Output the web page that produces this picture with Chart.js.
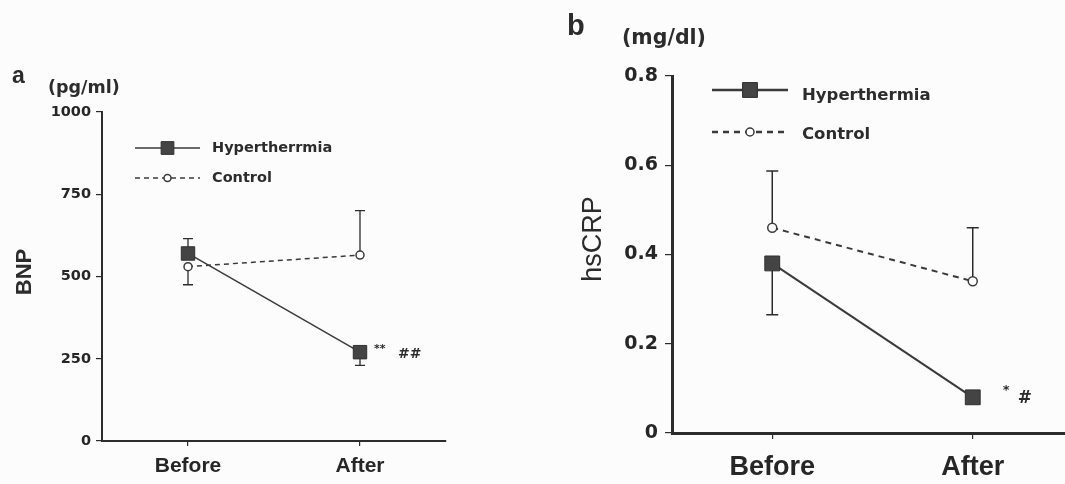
<!DOCTYPE html>
<html>
<head>
<meta charset="utf-8">
<script src="https://cdn.jsdelivr.net/npm/chart.js@4.4.1/dist/chart.umd.min.js"></script>
<style>
  html, body { margin: 0; padding: 0; background: #fcfcfc; overflow: hidden; }
  #wrap { position: relative; width: 1065px; height: 484px; overflow: hidden; }
  #bnp { position: absolute; left: 0; top: 0; }
  #crp { position: absolute; left: 540px; top: 0; }
</style>
</head>
<body>
<div id="wrap">
  <canvas id="bnp" width="540" height="484"></canvas>
  <canvas id="crp" width="560" height="484"></canvas>
</div>
<script>
const phases = ['Before', 'After'];

// BNP, pg/ml
const bnpHyper = [570, 270];
const bnpControl = [530, 565];
const bnpHyperErr = [45, -40];      // sign gives the side the bar is drawn on
const bnpControlErr = [-55, 135];
const bnpTicks = [0, 250, 500, 750, 1000];
const bnpSig = ['', '**'];
const bnpSigVsControl = ['', '##'];

// hsCRP, mg/dl
const crpHyper = [0.38, 0.08];
const crpControl = [0.46, 0.34];
const crpHyperErr = [-0.115, 0];
const crpControlErr = [0.127, 0.12];
const crpTicks = [0, 0.2, 0.4, 0.6, 0.8];
const crpSig = ['', '*'];
const crpSigVsControl = ['', '#'];

const ink = '#2c2c2c';
const dark = '#3a3a3a';

// one-sided SEM bars, drawn under the markers
const errorBars = {
  id: 'errorBars',
  beforeDatasetsDraw(chart, args, opts) {
    const ctx = chart.ctx;
    const y = chart.scales.y;
    chart.data.datasets.forEach((ds, i) => {
      const meta = chart.getDatasetMeta(i);
      ds.errors.forEach((e, j) => {
        if (!e) return;
        const pt = meta.data[j];
        const yEnd = y.getPixelForValue(ds.data[j] + e);
        ctx.save();
        ctx.strokeStyle = ink;
        ctx.lineWidth = opts.width;
        ctx.beginPath();
        ctx.moveTo(pt.x, pt.y);
        ctx.lineTo(pt.x, yEnd);
        ctx.moveTo(pt.x - opts.cap, yEnd);
        ctx.lineTo(pt.x + opts.cap, yEnd);
        ctx.stroke();
        ctx.restore();
      });
    });
  }
};

// significance marks next to the hyperthermia points
const sigMarks = {
  id: 'sigMarks',
  afterDatasetsDraw(chart, args, opts) {
    const ctx = chart.ctx;
    const meta = chart.getDatasetMeta(0);
    ctx.save();
    ctx.fillStyle = ink;
    ctx.textAlign = 'left';
    ctx.textBaseline = 'middle';
    meta.data.forEach((pt, j) => {
      if (opts.star[j]) {
        ctx.font = opts.starFont;
        ctx.fillText(opts.star[j], pt.x + opts.starDx, pt.y + opts.starDy);
      }
      if (opts.hash[j]) {
        ctx.font = opts.hashFont;
        ctx.fillText(opts.hash[j], pt.x + opts.hashDx, pt.y + opts.hashDy);
      }
    });
    ctx.restore();
  }
};

// key and free labels (panel letter, unit, y title)
const keyAndText = {
  id: 'keyAndText',
  afterDraw(chart, args, opts) {
    const ctx = chart.ctx;
    const k = opts.key;
    ctx.save();
    chart.data.datasets.forEach((ds, i) => {
      const y = k.y[i];
      ctx.strokeStyle = ds.borderColor;
      ctx.lineWidth = k.lineWidth[i];
      ctx.setLineDash(ds.borderDash || []);
      ctx.beginPath();
      ctx.moveTo(k.x1, y);
      ctx.lineTo(k.x2, y);
      ctx.stroke();
      ctx.setLineDash([]);
      ctx.fillStyle = ds.pointBackgroundColor;
      ctx.strokeStyle = ds.pointBorderColor;
      ctx.lineWidth = ds.pointBorderWidth;
      Chart.helpers.drawPoint(ctx, {
        pointStyle: ds.pointStyle, radius: k.radius[i], borderWidth: ds.pointBorderWidth, rotation: 0
      }, (k.x1 + k.x2) / 2, y);
      ctx.fillStyle = ink;
      ctx.font = k.font;
      ctx.textAlign = 'left';
      ctx.textBaseline = 'middle';
      ctx.fillText(ds.label, k.textX, k.textY[i]);
    });
    opts.texts.forEach(t => {
      ctx.save();
      ctx.fillStyle = ink;
      ctx.font = t.font;
      ctx.textAlign = t.align || 'left';
      ctx.textBaseline = t.baseline || 'alphabetic';
      ctx.translate(t.x, t.y);
      if (t.rot) ctx.rotate(t.rot);
      ctx.fillText(t.text, 0, 0);
      ctx.restore();
    });
    ctx.restore();
  }
};

function panel(canvas, o) {
  return new Chart(canvas, {
    type: 'line',
    data: {
      labels: phases,
      datasets: [{
        label: o.names[0],
        data: o.hyper,
        errors: o.hyperErr,
        borderColor: dark,
        borderWidth: o.lineWidth,
        pointStyle: 'rect',
        pointRadius: o.squareRadius,
        pointBackgroundColor: '#444444',
        pointBorderColor: '#303030',
        pointBorderWidth: 1,
        tension: 0
      }, {
        label: o.names[1],
        data: o.control,
        errors: o.controlErr,
        borderColor: dark,
        borderWidth: o.dashWidth,
        borderDash: o.dash,
        pointStyle: 'circle',
        pointRadius: o.circleRadius,
        pointBackgroundColor: '#ffffff',
        pointBorderColor: dark,
        pointBorderWidth: 1.5,
        tension: 0
      }]
    },
    options: {
      responsive: false,
      animation: false,
      events: [],
      layout: { padding: o.padding },
      plugins: {
        legend: { display: false },
        tooltip: { enabled: false },
        errorBars: o.bars,
        sigMarks: o.sig,
        keyAndText: { key: o.key, texts: o.texts }
      },
      scales: {
        x: {
          offset: true,
          grid: { offset: false, drawOnChartArea: false, tickLength: o.xTickLen, color: ink, lineWidth: 1.2 },
          border: { color: ink, width: o.axisWidth },
          ticks: { font: o.xFont, color: '#262626', padding: o.xPad },
          afterFit: s => { s.height = o.xHeight; }
        },
        y: {
          min: o.ticks[0],
          max: o.ticks[o.ticks.length - 1],
          afterBuildTicks: s => { s.ticks = o.ticks.map(v => ({ value: v })); },
          grid: { drawOnChartArea: false, tickLength: o.yTickLen, color: ink, lineWidth: 1.2 },
          border: { color: ink, width: o.axisWidth },
          ticks: { font: o.yFont, color: '#262626', padding: o.yPad, callback: v => String(v) },
          afterFit: s => { s.width = o.yWidth; }
        }
      }
    },
    plugins: [errorBars, sigMarks, keyAndText]
  });
}

panel(document.getElementById('bnp'), {
  names: ['Hypertherrmia', 'Control'],
  hyper: bnpHyper, control: bnpControl,
  hyperErr: bnpHyperErr, controlErr: bnpControlErr,
  ticks: bnpTicks,
  lineWidth: 1.5, dashWidth: 1.5, dash: [5, 4],
  squareRadius: 9.5, circleRadius: 4,
  padding: { left: 8, top: 112, right: 94, bottom: 3 },
  yWidth: 94, xHeight: 40,
  axisWidth: 2, xTickLen: 5, yTickLen: 6,
  xFont: { family: 'Liberation Sans', size: 21, weight: 'bold' }, xPad: 8,
  yFont: { family: 'DejaVu Sans', size: 14.5, weight: 'bold' }, yPad: 5,
  bars: { width: 1.3, cap: 5 },
  sig: {
    star: bnpSig, hash: bnpSigVsControl,
    starFont: 'bold 11px "DejaVu Sans"', starDx: 14, starDy: -3,
    hashFont: 'bold 14px "DejaVu Sans"', hashDx: 38, hashDy: 2
  },
  key: {
    x1: 135, x2: 200, y: [148, 178], radius: [9, 3.5], lineWidth: [1.5, 1.5],
    textX: 212, textY: [148, 178], font: 'bold 14.5px "DejaVu Sans"'
  },
  texts: [
    { text: 'a', x: 12, y: 83, font: 'bold 23px "Liberation Sans"' },
    { text: '(pg/ml)', x: 48, y: 93, font: 'bold 17.5px "DejaVu Sans"' },
    { text: 'BNP', x: 25, y: 272, rot: -Math.PI / 2, align: 'center', baseline: 'middle',
      font: 'bold 22px "Liberation Sans"' }
  ]
});

panel(document.getElementById('crp'), {
  names: ['Hyperthermia', 'Control'],
  hyper: crpHyper, control: crpControl,
  hyperErr: crpHyperErr, controlErr: crpControlErr,
  ticks: crpTicks,
  lineWidth: 2, dashWidth: 2, dash: [6, 5],
  squareRadius: 10.5, circleRadius: 4.5,
  padding: { left: 10, top: 76, right: 27, bottom: 3 },
  yWidth: 122, xHeight: 48,
  axisWidth: 3, xTickLen: 6, yTickLen: 7,
  xFont: { family: 'Liberation Sans', size: 27, weight: 'bold' }, xPad: 12,
  yFont: { family: 'DejaVu Sans', size: 19, weight: 'bold' }, yPad: 7,
  bars: { width: 1.5, cap: 6 },
  sig: {
    star: crpSig, hash: crpSigVsControl,
    starFont: 'bold 13px "DejaVu Sans"', starDx: 30, starDy: -7,
    hashFont: 'bold 17px "DejaVu Sans"', hashDx: 45, hashDy: 1
  },
  key: {
    x1: 172, x2: 248, y: [90, 132], radius: [10.5, 4], lineWidth: [2.5, 2.5],
    textX: 262, textY: [96, 135], font: 'bold 16.5px "DejaVu Sans"'
  },
  texts: [
    { text: 'b', x: 27, y: 35, font: 'bold 29px "Liberation Sans"' },
    { text: '(mg/dl)', x: 82, y: 44, font: 'bold 20.5px "DejaVu Sans"' },
    { text: 'hsCRP', x: 54, y: 239, rot: -Math.PI / 2, align: 'center', baseline: 'middle',
      font: '27px "Liberation Sans"' }
  ]
});
</script>
</body>
</html>
